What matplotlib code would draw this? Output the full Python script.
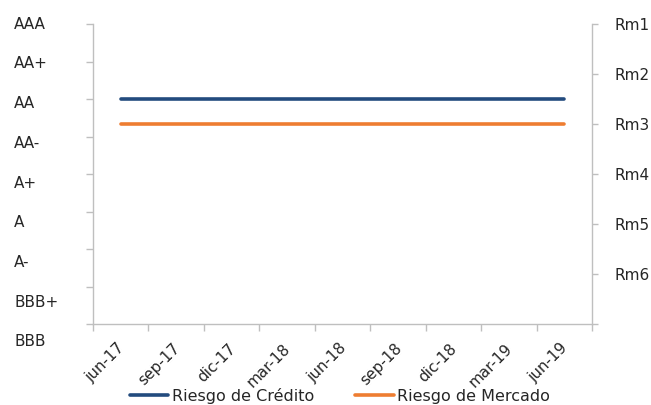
import matplotlib
matplotlib.use('Agg')
import matplotlib.pyplot as plt
from matplotlib.transforms import blended_transform_factory, ScaledTranslation

plt.rcParams['font.family'] = ['DejaVu Sans']

# data
fechas = ['jun-17', 'sep-17', 'dic-17', 'mar-18', 'jun-18',
          'sep-18', 'dic-18', 'mar-19', 'jun-19']
ratings = ['AAA', 'AA+', 'AA', 'AA-', 'A+', 'A', 'A-', 'BBB+', 'BBB']
riesgo_mercado_labels = ['Rm1', 'Rm2', 'Rm3', 'Rm4', 'Rm5', 'Rm6']
credito = ['AA'] * 9
mercado = ['Rm3'] * 9

AZUL = '#234B7E'
NARANJA = '#EE7D31'
GRIS = '#BFBFBF'
TEXTO = '#262626'
FS = 11

fig = plt.figure(figsize=(6.51, 4.05), dpi=100)
ax = fig.add_axes([93 / 651, 1 - 324 / 405, (592 - 93) / 651, 300 / 405])
ax2 = ax.twinx()

x = list(range(len(fechas)))
n_r = len(ratings)
y_cred = [n_r - 1 - ratings.index(c) for c in credito]
y_merc = [riesgo_mercado_labels.index(m) + 1 for m in mercado]

l1, = ax.plot(x, y_cred, color=AZUL, lw=2.6, solid_capstyle='round',
              label='Riesgo de Crédito')
l2, = ax2.plot(x, y_merc, color=NARANJA, lw=2.6, solid_capstyle='round',
               label='Riesgo de Mercado')

ax.set_xlim(-0.5, len(fechas) - 0.5)
ax.set_ylim(0, n_r - 1)
ax2.set_ylim(len(riesgo_mercado_labels) + 1, 1)

# left axis: ticks only, labels placed as Excel does
ax.set_yticks(range(n_r))
ax.set_yticklabels([])
tr = blended_transform_factory(fig.transFigure, ax.transAxes)
for i, r in enumerate(ratings):
    ax.text(14 / 651, 1 - i * (318 / 300) / (n_r - 1), r, transform=tr,
            ha='left', va='center', fontsize=FS, color=TEXTO)

# right axis
ax2.set_yticks(range(1, len(riesgo_mercado_labels) + 2))
ax2.set_yticklabels(riesgo_mercado_labels + [''])

# x axis: ticks between categories, labels at the centres
ax.set_xticks([i - 0.5 for i in range(len(fechas) + 1)], minor=True)
ax.set_xticks(x)
ax.set_xticklabels(fechas, rotation=45, ha='right', va='top',
                   rotation_mode='anchor')
ax.tick_params(axis='x', which='major', length=0, pad=12,
               labelsize=FS, labelcolor=TEXTO)
ax.tick_params(axis='x', which='minor', length=5, width=1, color=GRIS)
ax.tick_params(axis='y', length=5, width=1, color=GRIS)
ax2.tick_params(axis='y', length=4, width=1, color=GRIS, pad=12,
                labelsize=FS, labelcolor=TEXTO)
shift = ScaledTranslation(-4 / 100, 0, fig.dpi_scale_trans)
for lbl in ax.get_xticklabels():
    lbl.set_transform(lbl.get_transform() + shift)

for a in (ax, ax2):
    for s in a.spines.values():
        s.set_visible(False)
ax.spines['left'].set_visible(True)
ax.spines['bottom'].set_visible(True)
ax2.spines['right'].set_visible(True)
for s in (ax.spines['left'], ax.spines['bottom'], ax2.spines['right']):
    s.set_color(GRIS)
    s.set_linewidth(1)

fig.legend([l1, l2], ['Riesgo de Crédito', 'Riesgo de Mercado'],
           loc='center', bbox_to_anchor=(340 / 651, 1 - 396 / 405), ncol=2,
           frameon=False, fontsize=11.5, handlelength=2.4, handletextpad=0.2,
           columnspacing=2.6, labelcolor=TEXTO)

fig.savefig('out.png', dpi=100)
